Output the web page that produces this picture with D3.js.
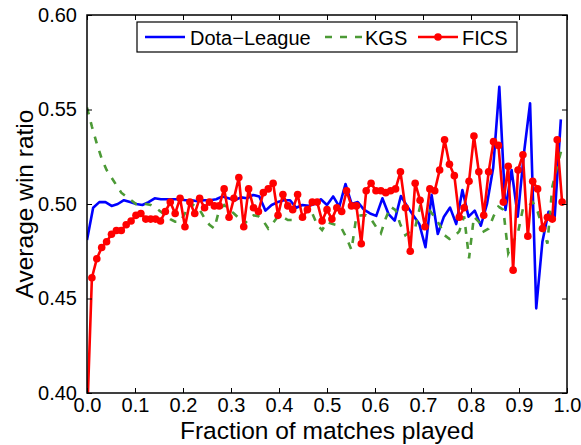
<!DOCTYPE html>
<html>
<head>
<meta charset="utf-8">
<script src="https://cdn.jsdelivr.net/npm/d3@7"></script>
<style>
  html, body { margin: 0; padding: 0; background: #fff; }
  svg { display: block; font-family: "Liberation Sans", Arial, Helvetica, sans-serif; }
</style>
</head>
<body>
<svg id="chart" width="581" height="445"></svg>
<script>
// Average win ratio per bin of "fraction of matches played"
const dotaLeague = [
  0.481, 0.498, 0.501, 0.501, 0.499, 0.500, 0.502, 0.501, 0.500, 0.4995,
  0.501, 0.503, 0.5025, 0.5025, 0.5025, 0.5025, 0.502, 0.502, 0.5015, 0.502,
  0.502, 0.5025, 0.504, 0.503, 0.502, 0.5035, 0.503, 0.5048, 0.504, 0.4965,
  0.4995, 0.501, 0.502, 0.502, 0.498, 0.4995, 0.499, 0.500, 0.5025, 0.4995,
  0.504, 0.4986, 0.5106, 0.500, 0.501, 0.497, 0.495, 0.4937, 0.503, 0.4947,
  0.4912, 0.5042, 0.499, 0.494, 0.4894, 0.4771, 0.5048, 0.4841, 0.4933, 0.4981,
  0.4894, 0.5074, 0.4933, 0.4965, 0.4885, 0.500, 0.519, 0.562, 0.4968, 0.518,
  0.4933, 0.5268, 0.5533, 0.4448, 0.480, 0.4959, 0.4933, 0.5448
];

const kgs = [
  0.551, 0.541, 0.532, 0.524, 0.518, 0.514, 0.510, 0.506, 0.504, 0.502,
  0.500, 0.5005, 0.500, 0.4995, 0.498, 0.496, 0.494, 0.492, 0.4906, 0.4906,
  0.495, 0.5005, 0.499, 0.497, 0.4925, 0.489, 0.487, 0.497, 0.4995, 0.497,
  0.495, 0.4925, 0.489, 0.492, 0.494, 0.4935, 0.491, 0.487, 0.490, 0.4935,
  0.493, 0.4915, 0.4915, 0.4915, 0.493, 0.494, 0.495, 0.489, 0.4862, 0.4905,
  0.4895, 0.4889, 0.487, 0.482, 0.4757, 0.4935, 0.494, 0.494, 0.492, 0.488,
  0.4845, 0.4925, 0.4985, 0.4968, 0.489, 0.4835, 0.4855, 0.4875, 0.4986, 0.4975,
  0.4965, 0.493, 0.489, 0.4835, 0.4815, 0.483, 0.4855, 0.4935, 0.4713, 0.4933,
  0.4905, 0.4855, 0.487, 0.4935, 0.4986, 0.497, 0.474, 0.480, 0.485, 0.4975,
  0.4985, 0.501, 0.496, 0.4875, 0.479, 0.509, 0.520, 0.530
];

const fics = [
  0.385, 0.461, 0.471, 0.477, 0.480, 0.484, 0.486, 0.486, 0.489, 0.491,
  0.494, 0.495, 0.492, 0.492, 0.492, 0.491, 0.496, 0.501, 0.495, 0.503,
  0.488, 0.501, 0.495, 0.503, 0.498, 0.501, 0.499, 0.499, 0.508, 0.493,
  0.503, 0.514, 0.488, 0.508, 0.498, 0.496, 0.506, 0.508, 0.511, 0.494,
  0.505, 0.499, 0.497, 0.505, 0.493, 0.497, 0.501, 0.501, 0.491, 0.497,
  0.492, 0.498, 0.496, 0.507, 0.499, 0.499, 0.479, 0.507, 0.511, 0.507,
  0.507, 0.506, 0.507, 0.508, 0.517, 0.498, 0.475, 0.511, 0.502, 0.488,
  0.508, 0.507, 0.518, 0.534, 0.521, 0.515, 0.493, 0.498, 0.512, 0.536,
  0.517, 0.494, 0.517, 0.533, 0.531, 0.501, 0.520, 0.465, 0.518, 0.526,
  0.483, 0.512, 0.508, 0.487, 0.493, 0.492, 0.534, 0.501
];

const xTicks = [0.0, 0.1, 0.2, 0.3, 0.4, 0.5, 0.6, 0.7, 0.8, 0.9, 1.0];
const xTickLabels = ["0.0", "0.1", "0.2", "0.3", "0.4", "0.5", "0.6", "0.7", "0.8", "0.9", "1.0"];
const yTicks = [0.40, 0.45, 0.50, 0.55, 0.60];
const yTickLabels = ["0.40", "0.45", "0.50", "0.55", "0.60"];

const seriesNames = ["Dota\u2212League", "KGS", "FICS"];

// each value sits at the start of its bin
const asPoints = (vals) => vals.map((v, i) => [i / vals.length, v]);

const svg = d3.select("#chart");
const plotLeft = 87, plotRight = 567, plotTop = 15, plotBottom = 393;

const x = d3.scaleLinear().domain([0, 1]).range([plotLeft, plotRight]);
const y = d3.scaleLinear().domain([0.40, 0.60]).range([plotBottom, plotTop]);

svg.append("defs").append("clipPath").attr("id", "plotClip")
  .append("rect")
  .attr("x", plotLeft).attr("y", plotTop)
  .attr("width", plotRight - plotLeft).attr("height", plotBottom - plotTop);

const line = d3.line().x(d => x(d[0])).y(d => y(d[1]));
const plot = svg.append("g").attr("clip-path", "url(#plotClip)");

const blue = "#0000ff", green = "#4c9a36", red = "#ff0000";

plot.append("path").datum(asPoints(dotaLeague))
  .attr("d", line).attr("fill", "none")
  .attr("stroke", blue).attr("stroke-width", 2.6).attr("stroke-linejoin", "round");

plot.append("path").datum(asPoints(kgs))
  .attr("d", line).attr("fill", "none")
  .attr("stroke", green).attr("stroke-width", 2.6)
  .attr("stroke-dasharray", "7,8");

const ficsPts = asPoints(fics);
plot.append("path").datum(ficsPts)
  .attr("d", line).attr("fill", "none")
  .attr("stroke", red).attr("stroke-width", 2.6).attr("stroke-linejoin", "round");

plot.selectAll("circle.fics").data(ficsPts).enter().append("circle")
  .attr("class", "fics")
  .attr("cx", d => x(d[0])).attr("cy", d => y(d[1]))
  .attr("r", 3.8).attr("fill", red);

// axes with inward ticks on all four sides
const tickLen = 5;
const axB = d3.axisBottom(x).tickValues(xTicks).tickSizeInner(-tickLen).tickSizeOuter(0)
  .tickFormat((d, i) => xTickLabels[i]).tickPadding(5);
const axT = d3.axisTop(x).tickValues(xTicks).tickSizeInner(-tickLen).tickSizeOuter(0).tickFormat("");
const axL = d3.axisLeft(y).tickValues(yTicks).tickSizeInner(-tickLen).tickSizeOuter(0)
  .tickFormat((d, i) => yTickLabels[i]).tickPadding(10);
const axR = d3.axisRight(y).tickValues(yTicks).tickSizeInner(-tickLen).tickSizeOuter(0).tickFormat("");

function styleAxis(g) {
  g.select(".domain").remove();
  g.selectAll("line").attr("stroke", "#000").attr("stroke-width", 1);
  g.selectAll("text").attr("fill", "#000").attr("font-size", 20)
    .attr("font-family", "'Liberation Sans', Arial, sans-serif");
}

svg.append("g").attr("transform", `translate(0,${plotBottom})`).call(axB).call(styleAxis);
svg.append("g").attr("transform", `translate(0,${plotTop})`).call(axT).call(styleAxis);
svg.append("g").attr("transform", `translate(${plotLeft},0)`).call(axL).call(styleAxis);
svg.append("g").attr("transform", `translate(${plotRight},0)`).call(axR).call(styleAxis);

// frame
svg.append("rect")
  .attr("x", plotLeft).attr("y", plotTop)
  .attr("width", plotRight - plotLeft).attr("height", plotBottom - plotTop)
  .attr("fill", "none").attr("stroke", "#000").attr("stroke-width", 1.5);

// axis titles
svg.append("text")
  .attr("x", (plotLeft + plotRight) / 2).attr("y", 439)
  .attr("text-anchor", "middle").attr("font-size", 24.5)
  .text("Fraction of matches played");

svg.append("text")
  .attr("transform", `translate(33,${(plotTop + plotBottom) / 2}) rotate(-90)`)
  .attr("text-anchor", "middle").attr("font-size", 24.5)
  .text("Average win ratio");

// legend
const lg = svg.append("g");
lg.append("rect")
  .attr("x", 137).attr("y", 22).attr("width", 380).attr("height", 30)
  .attr("fill", "#fff").attr("stroke", "#000").attr("stroke-width", 1.2);

const ly = 37;
lg.append("line").attr("x1", 145).attr("x2", 185).attr("y1", ly).attr("y2", ly)
  .attr("stroke", blue).attr("stroke-width", 2.6);
lg.append("text").attr("x", 190).attr("y", ly + 7.5).attr("font-size", 20).text(seriesNames[0]);

lg.append("line").attr("x1", 325).attr("x2", 362).attr("y1", ly).attr("y2", ly)
  .attr("stroke", green).attr("stroke-width", 2.6).attr("stroke-dasharray", "7,8");
lg.append("text").attr("x", 365).attr("y", ly + 7.5).attr("font-size", 20).text(seriesNames[1]);

lg.append("line").attr("x1", 418).attr("x2", 458).attr("y1", ly).attr("y2", ly)
  .attr("stroke", red).attr("stroke-width", 2.6);
lg.append("circle").attr("cx", 438).attr("cy", ly).attr("r", 3.8).attr("fill", red);
lg.append("text").attr("x", 462).attr("y", ly + 7.5).attr("font-size", 20).text(seriesNames[2]);
</script>
</body>
</html>
